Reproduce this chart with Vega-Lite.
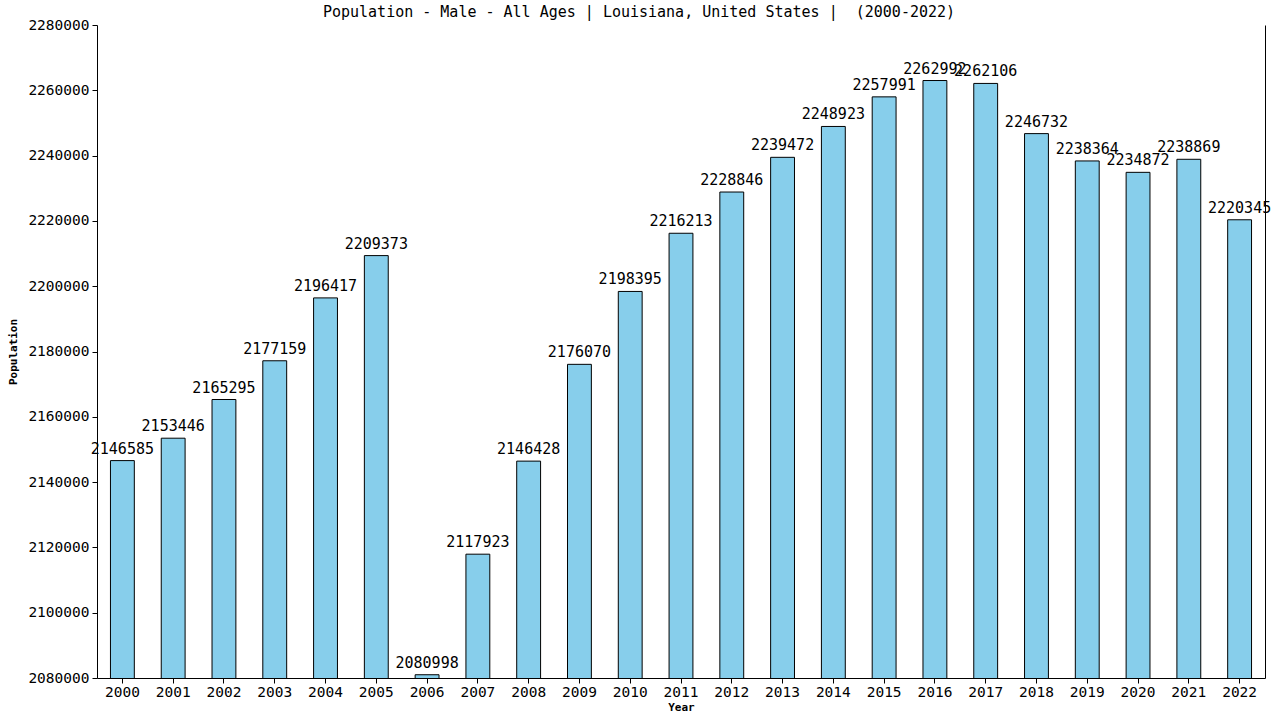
{
  "$schema": "https://vega.github.io/schema/vega-lite/v6.json",
  "autosize": "none",
  "width": 1168,
  "height": 653,
  "padding": {"left": 97, "top": 25, "right": 15, "bottom": 42},
  "background": "white",
  "title": {
    "text": "Population - Male - All Ages | Louisiana, United States | \u00a0(2000-2022)",
    "font": "DejaVu Sans Mono",
    "fontSize": 15,
    "fontWeight": "normal",
    "color": "black",
    "anchor": "middle",
    "frame": "group",
    "dx": -42,
    "offset": -3
  },
  "data": {
    "values": [
      {"Year": "2000", "Population": 2146585},
      {"Year": "2001", "Population": 2153446},
      {"Year": "2002", "Population": 2165295},
      {"Year": "2003", "Population": 2177159},
      {"Year": "2004", "Population": 2196417},
      {"Year": "2005", "Population": 2209373},
      {"Year": "2006", "Population": 2080998},
      {"Year": "2007", "Population": 2117923},
      {"Year": "2008", "Population": 2146428},
      {"Year": "2009", "Population": 2176070},
      {"Year": "2010", "Population": 2198395},
      {"Year": "2011", "Population": 2216213},
      {"Year": "2012", "Population": 2228846},
      {"Year": "2013", "Population": 2239472},
      {"Year": "2014", "Population": 2248923},
      {"Year": "2015", "Population": 2257991},
      {"Year": "2016", "Population": 2262992},
      {"Year": "2017", "Population": 2262106},
      {"Year": "2018", "Population": 2246732},
      {"Year": "2019", "Population": 2238364},
      {"Year": "2020", "Population": 2234872},
      {"Year": "2021", "Population": 2238869},
      {"Year": "2022", "Population": 2220345}
    ]
  },
  "config": {
    "view": {"stroke": null},
    "axis": {
      "labelFont": "DejaVu Sans Mono",
      "labelFontSize": 14.5,
      "labelColor": "black",
      "titleFont": "DejaVu Sans Mono",
      "titleFontSize": 11,
      "titleFontWeight": "bold",
      "titleColor": "black",
      "domainColor": "black",
      "tickColor": "black",
      "tickSize": 5,
      "grid": false
    }
  },
  "encoding": {
    "x": {
      "field": "Year",
      "type": "ordinal",
      "scale": {"paddingInner": 0.53, "paddingOuter": 0.265},
      "axis": {"labelAngle": 0, "title": "Year", "labelPadding": 2, "titlePadding": 3}
    },
    "y": {
      "field": "Population",
      "type": "quantitative",
      "scale": {"domain": [2080000, 2280000], "zero": false, "nice": false}
    }
  },
  "layer": [
    {
      "mark": {"type": "bar", "fill": "#87CEEB", "stroke": "black", "strokeWidth": 1, "clip": true},
      "encoding": {
        "y": {
          "field": "Population",
          "type": "quantitative",
          "scale": {"domain": [2080000, 2280000], "zero": false, "nice": false},
          "axis": {"title": "Population", "values": [2080000, 2100000, 2120000, 2140000, 2160000, 2180000, 2200000, 2220000, 2240000, 2260000, 2280000], "format": "d", "labelPadding": 3, "titlePadding": 9}
        }
      }
    },
    {
      "mark": {"type": "text", "font": "DejaVu Sans Mono", "fontSize": 15, "color": "black", "baseline": "bottom", "dy": -4},
      "encoding": {
        "text": {"field": "Population", "type": "quantitative", "format": "d"},
        "y": {
          "field": "Population",
          "type": "quantitative",
          "scale": {"domain": [2080000, 2280000], "zero": false, "nice": false},
          "axis": {"orient": "right", "labels": false, "ticks": false, "title": null, "domain": true}
        }
      }
    }
  ],
  "resolve": {"axis": {"y": "independent"}}
}
